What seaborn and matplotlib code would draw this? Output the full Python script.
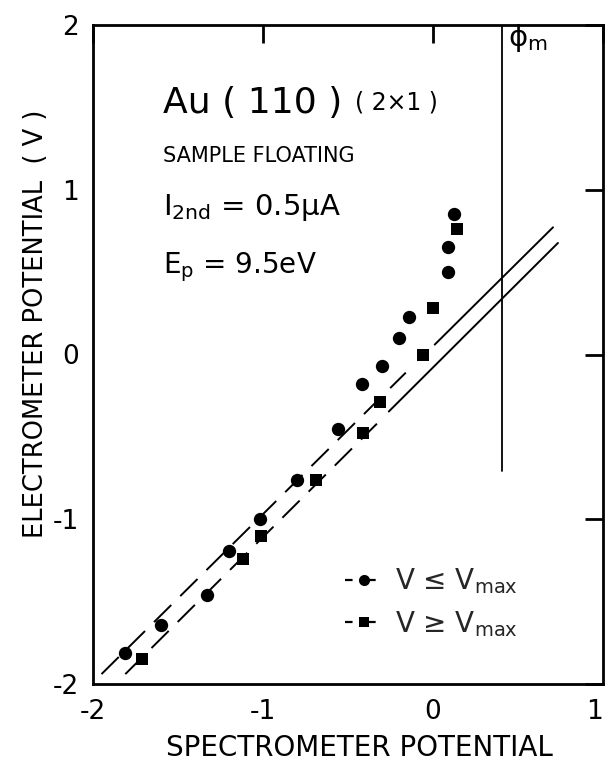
import matplotlib
matplotlib.use("Agg")
import matplotlib.pyplot as plt
import seaborn as sns
import pandas as pd
from matplotlib.lines import Line2D

# ---- data ----
circle_x = [-1.81, -1.60, -1.33, -1.20, -1.02, -0.80, -0.56, -0.42, -0.30, -0.20, -0.14, 0.09, 0.09, 0.125]
circle_y = [-1.81, -1.64, -1.46, -1.19, -1.00, -0.76, -0.455, -0.18, -0.07, 0.10, 0.23, 0.50, 0.65, 0.85]
square_x = [-1.71, -1.12, -1.01, -0.69, -0.41, -0.31, -0.06, 0.00, 0.14]
square_y = [-1.85, -1.24, -1.10, -0.76, -0.475, -0.29, 0.00, 0.285, 0.76]

upper_dashed_x = [-1.95, -0.16]
upper_dashed_y = [-1.94, -0.11]
upper_solid_x = [0.01, 0.706]
upper_solid_y = [0.06, 0.772]
lower_dashed_x = [-1.81, -0.33]
lower_dashed_y = [-1.94, -0.42]
lower_solid_x = [-0.26, 0.735]
lower_solid_y = [-0.346, 0.677]

phi_m_x = [0.405, 0.405]
phi_m_y = [-0.71, 2.0]

x_ticks = [-2, -1, 0, 1]
y_ticks = [-2, -1, 0, 1, 2]
x_ticklabels = ["-2", "-1", "0", "1"]
y_ticklabels = ["-2", "-1", "0", "1", "2"]

legend_labels = ["V ≤ V$_{\\mathrm{max}}$", "V ≥ V$_{\\mathrm{max}}$"]

# ---- style ----
sns.set_theme(style="white")
plt.rcParams["font.family"] = ["DejaVu Sans"]
plt.rcParams["mathtext.default"] = "regular"
plt.rcParams["axes.unicode_minus"] = False

fig = plt.figure(figsize=(6.05, 7.65), dpi=100)
ax = fig.add_axes([93 / 605, 1 - 684 / 765, 510 / 605, 659 / 765])

df_c = pd.DataFrame({"x": circle_x, "y": circle_y})
df_s = pd.DataFrame({"x": square_x, "y": square_y})

lw = 1.4
dash = (0, (12.5, 6.5))
ax.plot(upper_dashed_x, upper_dashed_y, color="black", lw=lw, linestyle=dash, zorder=2)
ax.plot(upper_solid_x, upper_solid_y, color="black", lw=lw, zorder=2)
ax.plot(lower_dashed_x, lower_dashed_y, color="black", lw=lw, linestyle=dash, zorder=2)
ax.plot(lower_solid_x, lower_solid_y, color="black", lw=lw, zorder=2)
ax.plot(phi_m_x, phi_m_y, color="black", lw=1.3, zorder=2)

sns.scatterplot(data=df_c, x="x", y="y", marker="o", s=92, color="black",
                edgecolor="black", linewidth=0, ax=ax, zorder=3, legend=False)
sns.scatterplot(data=df_s, x="x", y="y", marker="s", s=80, color="black",
                edgecolor="black", linewidth=0, ax=ax, zorder=3, legend=False)

ax.set_xlim(-2, 1)
ax.set_ylim(-2, 2)
ax.set_xticks(x_ticks)
ax.set_xticklabels(x_ticklabels)
ax.set_yticks(y_ticks)
ax.set_yticklabels(y_ticklabels)
ax.tick_params(axis="both", direction="in", length=13, width=2, colors="black",
               top=True, right=True, labelsize=19)
ax.tick_params(axis="x", pad=11)
ax.tick_params(axis="y", pad=10)
ax.get_xticklabels()[-1].set_horizontalalignment("right")
for sp in ax.spines.values():
    sp.set_color("black")
    sp.set_linewidth(2)

ax.set_xlabel("SPECTROMETER POTENTIAL", fontsize=20, color="black", va="top")
ax.xaxis.set_label_coords(0.5216, -0.076)
ax.set_ylabel("ELECTROMETER POTENTIAL  ( V )", fontsize=18.5, color="black", va="center")
ax.yaxis.set_label_coords(-0.112, 0.546)

# ---- annotations ----
ax.text(-1.59, 1.468, "Au ( 110 )", fontsize=26, color="black", ha="left", va="baseline")
ax.text(-0.46, 1.49, "( 2×1 )", fontsize=17, color="black", ha="left", va="baseline")
ax.text(-1.59, 1.171, "SAMPLE FLOATING", fontsize=15, color="black", ha="left", va="baseline")
ax.text(-1.59, 0.848, r"I$_{2nd}$ = 0.5μA", fontsize=21, color="black", ha="left", va="baseline")
ax.text(-1.59, 0.495, r"E$_{p}$ = 9.5eV", fontsize=20, color="black", ha="left", va="baseline")
ax.text(0.44, 1.87, r"$\phi_{m}$", fontsize=21, color="black", ha="left", va="baseline")

handles = [
    Line2D([], [], color="black", lw=1.6, linestyle=(0, (3.4, 7.0)), marker="o",
           markersize=8, markeredgewidth=0),
    Line2D([], [], color="black", lw=1.6, linestyle=(0, (3.4, 7.0)), marker="s",
           markersize=7.5, markeredgewidth=0),
]
leg = ax.legend(handles, legend_labels, loc="upper left", bbox_to_anchor=(0.495, 0.178),
                frameon=False, fontsize=20, handlelength=1.3, handletextpad=0.5,
                labelspacing=0.45, borderpad=0, borderaxespad=0, numpoints=1)

fig.savefig("out.png", dpi=100)
